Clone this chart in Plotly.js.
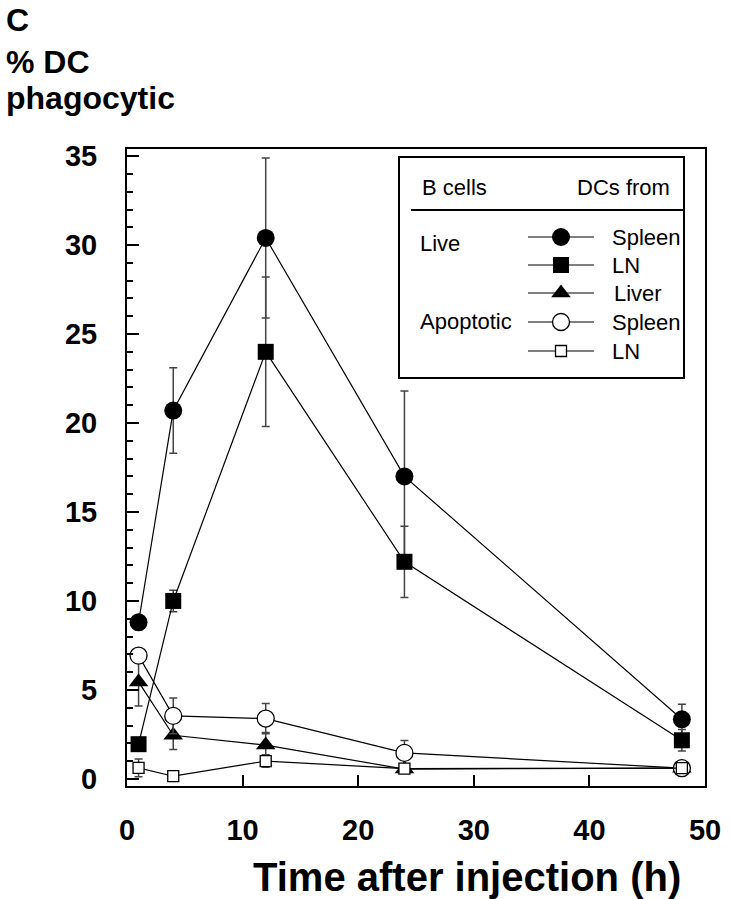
<!DOCTYPE html>
<html><head><meta charset="utf-8">
<script src="https://cdn.plot.ly/plotly-3.0.1.min.js"></script>
<style>html,body{margin:0;padding:0;background:#fff}#chart{width:731px;height:899px}</style>
</head><body><div id="chart"></div>
<script>
// ---- data ----
const hours = [1, 4, 12, 24, 48];
const liveSpleen = [8.8, 20.7, 30.4, 17.0, 3.35];
const liveSpleenErr = [0.4, 2.4, 4.5, 4.8, 0.85];
const liveLN = [1.95, 10.0, 24.0, 12.2, 2.17];
const liveLNErr = [0.3, 0.6, 4.2, 2.0, 0.6];
const liveLiver = [5.45, 2.45, 1.9, 0.55, 0.6];
const liveLiverErr = [1.35, 0.8, 0.7, 0.2, 0.2];
const apoSpleen = [6.93, 3.54, 3.39, 1.46, 0.6];
const apoSpleenErr = [0.3, 1.0, 0.85, 0.7, 0.2];
const apoLN = [0.62, 0.15, 1.0, 0.58, 0.6];
const apoLNErr = [0.5, 0.1, 0.35, 0.1, 0.1];
const xTicks = [0, 10, 20, 30, 40, 50];
const yTicks = [0, 5, 10, 15, 20, 25, 30, 35];
const seriesNames = ['Spleen', 'LN', 'Liver', 'Spleen', 'LN'];
const groupLabels = ['Live', 'Apoptotic'];
const headerLeft = 'B cells';
const headerRight = 'DCs from';

// ---- styles ----
const FONT = 'Liberation Sans, Arial, Helvetica, sans-serif';
const styles = [
  {symbol: 'circle', size: 18, color: '#000', lw: 0},
  {symbol: 'square', size: 16, color: '#000', lw: 0},
  {symbol: 'triangle-up', size: 17, color: '#000', lw: 0},
  {symbol: 'circle', size: 17, color: '#fff', lw: 1.3},
  {symbol: 'square', size: 11, color: '#fff', lw: 1.3}
];
const ys = [liveSpleen, liveLN, liveLiver, apoSpleen, apoLN];
const errs = [liveSpleenErr, liveLNErr, liveLiverErr, apoSpleenErr, apoLNErr];

const traces = ys.map((y, i) => ({
  type: 'scatter', mode: 'lines+markers', x: hours, y: y,
  name: seriesNames[i], showlegend: false, cliponaxis: false,
  line: {color: '#000', width: 1.2},
  marker: {symbol: styles[i].symbol, size: styles[i].size, color: styles[i].color,
           line: {color: '#000', width: styles[i].lw}},
  error_y: {type: 'data', array: errs[i], visible: true, color: '#444', thickness: 1.5, width: 4}
}));

// ---- legend box drawn on an overlay axis measured in page pixels ----
const lgLeft = 399, lgRight = 684, lgTop = 157, lgBottom = 378;
const rowY = [237, 265, 293, 322, 351];
const sampleX0 = 528, sampleX1 = 594, sampleXm = 561;
rowY.forEach((ry, i) => {
  traces.push({
    type: 'scatter', mode: 'lines', x: [sampleX0, sampleX1], y: [ry, ry],
    xaxis: 'x2', yaxis: 'y2', showlegend: false, hoverinfo: 'skip',
    line: {color: '#000', width: 1.2}
  });
  traces.push({
    type: 'scatter', mode: 'markers', x: [sampleXm], y: [ry],
    xaxis: 'x2', yaxis: 'y2', showlegend: false, hoverinfo: 'skip',
    marker: {symbol: styles[i].symbol, size: styles[i].size, color: styles[i].color,
             line: {color: '#000', width: styles[i].lw}}
  });
});

const L = 127, R = 705, T = 149, B = 786;
const px = v => (v - L) / (R - L);
const py = v => (B - v) / (B - T);

const annotations = [
  {text: 'C', x: px(4), y: py(20), xanchor: 'left', yanchor: 'middle'},
  {text: '% DC', x: px(4), y: py(62), xanchor: 'left', yanchor: 'middle'},
  {text: 'phagocytic', x: px(4), y: py(98), xanchor: 'left', yanchor: 'middle'},
  {text: 'Time after injection (h)', x: px(467), y: py(877), xanchor: 'center', yanchor: 'middle', size: 40}
].map(a => ({xref: 'paper', yref: 'paper', showarrow: false, text: a.text, x: a.x, y: a.y,
  xanchor: a.xanchor, yanchor: a.yanchor,
  font: {family: FONT, size: a.size || 32, color: '#000', weight: 'bold'}}));

const lgText = [
  {text: headerLeft, x: 420, y: 187},
  {text: headerRight, x: 575, y: 187},
  {text: groupLabels[0], x: 418, y: 243},
  {text: groupLabels[1], x: 418, y: 321},
  {text: seriesNames[0], x: 610, y: rowY[0]},
  {text: seriesNames[1], x: 610, y: rowY[1]},
  {text: seriesNames[2], x: 612, y: rowY[2]},
  {text: seriesNames[3], x: 610, y: rowY[3]},
  {text: seriesNames[4], x: 610, y: rowY[4]}
];
lgText.forEach(t => annotations.push({xref: 'x2', yref: 'y2', x: t.x, y: t.y, text: t.text,
  showarrow: false, xanchor: 'left', yanchor: 'middle',
  font: {family: FONT, size: 22, color: '#000'}}));

const layout = {
  width: 731, height: 899,
  margin: {l: L, r: 731 - R, t: T, b: 899 - B, pad: 0},
  paper_bgcolor: '#fff', plot_bgcolor: '#fff',
  showlegend: false,
  font: {family: FONT, color: '#000'},
  xaxis: {
    range: [0, 50], tickmode: 'array', tickvals: xTicks, ticktext: xTicks.map(String),
    ticks: 'inside', ticklen: 11, tickwidth: 2, tickcolor: '#000',
    showline: true, linewidth: 2, linecolor: '#000', mirror: true,
    showgrid: false, zeroline: false, ticklabelstandoff: 17,
    tickfont: {family: FONT, size: 29, color: '#000', weight: 'bold'}
  },
  yaxis: {
    range: [-0.4, 35.4], tickmode: 'array', tickvals: yTicks, ticktext: yTicks.map(String),
    ticks: 'inside', ticklen: 12, tickwidth: 2, tickcolor: '#000',
    minor: {tickmode: 'linear', tick0: 0, dtick: 1, ticks: 'inside', ticklen: 6, tickwidth: 2, tickcolor: '#000', showgrid: false},
    showline: true, linewidth: 2, linecolor: '#000', mirror: true,
    showgrid: false, zeroline: false, ticklabelstandoff: 22,
    tickfont: {family: FONT, size: 29, color: '#000', weight: 'bold'}
  },
  xaxis2: {overlaying: 'x', range: [L, R], visible: false, fixedrange: true},
  yaxis2: {overlaying: 'y', range: [B, T], visible: false, fixedrange: true},
  shapes: [
    {type: 'rect', xref: 'x2', yref: 'y2', x0: lgLeft, x1: lgRight, y0: lgTop, y1: lgBottom,
     line: {color: '#000', width: 2}, fillcolor: '#fff', layer: 'below'},
    {type: 'line', xref: 'x2', yref: 'y2', x0: 411, x1: lgRight, y0: 210, y1: 210,
     line: {color: '#000', width: 2}}
  ],
  annotations: annotations
};

Plotly.newPlot('chart', traces, layout, {staticPlot: true, displayModeBar: false});
</script></body></html>
